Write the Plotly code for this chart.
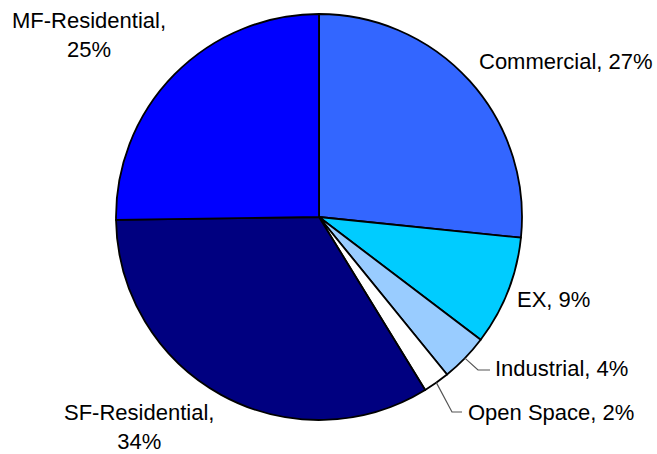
import math
import plotly.graph_objects as go

categories = ["Commercial", "EX", "Industrial", "Open Space", "SF-Residential", "MF-Residential"]
values = [26.6, 8.7, 3.8, 2.1, 33.5, 25.2]
colors = ["#3366FF", "#00CCFF", "#99CCFF", "#FFFFFF", "#000080", "#0000FF"]

W, H = 657, 454
CX, CY, R = 319, 217, 203
FONT = dict(family="Liberation Sans, Arial, sans-serif", size=22, color="#000000")

total = sum(values)
pcts = [round(v / total * 100) for v in values]

fig = go.Figure(go.Pie(
    labels=categories,
    values=values,
    sort=False,
    direction="clockwise",
    rotation=0,
    marker=dict(colors=colors, line=dict(color="#000000", width=1.8)),
    textinfo="none",
    hoverinfo="label+percent",
    domain=dict(x=[(CX - R) / W, (CX + R) / W], y=[(H - CY - R) / H, (H - CY + R) / H]),
    showlegend=False,
))

def px(x):
    return x / W

def py(y):
    return 1 - y / H

# label positions (text centres, pixels)
label_pos = {
    "Commercial": (566, 61, False),
    "EX": (553, 299, False),
    "Industrial": (561, 368, False),
    "Open Space": (551, 412, False),
    "SF-Residential": (139, 427, True),
    "MF-Residential": (89, 35, True),
}

for name, p in zip(categories, pcts):
    x, y, two = label_pos[name]
    text = f"{name},<br>{p}%" if two else f"{name}, {p}%"
    fig.add_annotation(x=px(x), y=py(y), xref="paper", yref="paper", text=text,
                       showarrow=False, font=FONT, xanchor="center", yanchor="middle",
                       align="center", borderpad=0)

# leader lines for small slices
cum = 0
mids = {}
for name, v in zip(categories, values):
    a0 = cum / total * 360
    cum += v
    a1 = cum / total * 360
    mids[name] = math.radians((a0 + a1) / 2)

leaders = {"Industrial": ((478, 370), (490, 370)), "Open Space": ((452, 412), (462, 412))}
for name, (elbow, end) in leaders.items():
    a = mids[name]
    sx, sy = CX + R * math.sin(a), CY - R * math.cos(a)
    path = f"M {px(sx)},{py(sy)} L {px(elbow[0])},{py(elbow[1])} L {px(end[0])},{py(end[1])}"
    fig.add_shape(type="path", path=path, xref="paper", yref="paper",
                  line=dict(color="#555555", width=1.2))

fig.update_layout(width=W, height=H, margin=dict(l=0, r=0, t=0, b=0),
                  paper_bgcolor="white", plot_bgcolor="white")

fig.write_html("out.html", config={"displayModeBar": False},
               post_script="document.body.style.margin='0px';document.body.style.overflow='hidden';")
